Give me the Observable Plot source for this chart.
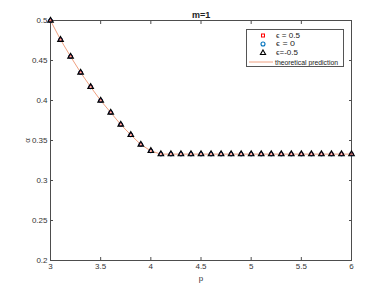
<!DOCTYPE html>
<html>
<head>
<meta charset="utf-8">
<script src="https://cdn.jsdelivr.net/npm/d3@7"></script>
<script src="https://cdn.jsdelivr.net/npm/@observablehq/plot@0.6"></script>
<style>
  body { margin: 0; background: #fff; }
  #wrap { position: relative; width: 388px; height: 291px; font-family: "Liberation Sans", Arial, sans-serif; }
  #legend { position: absolute; left: 246px; top: 29px; width: 96px; height: 36px; border: 1px solid #555; background: #fff; box-sizing: content-box; }
</style>
</head>
<body>
<div id="wrap"></div>
<script>
const P = [3.0,3.1,3.2,3.3,3.4,3.5,3.6,3.7,3.8,3.9,4.0,4.1,4.2,4.3,4.4,4.5,4.6,4.7,4.8,4.9,5.0,5.1,5.2,5.3,5.4,5.5,5.6,5.7,5.8,5.9,6.0];
const epsPos = [0.5,0.476,0.455,0.435,0.417,0.4,0.385,0.370,0.357,0.345,0.337,0.333,0.333,0.333,0.333,0.333,0.333,0.333,0.333,0.333,0.333,0.333,0.333,0.333,0.333,0.333,0.333,0.333,0.333,0.333,0.333];
const epsZero = [0.5,0.476,0.455,0.435,0.417,0.4,0.385,0.370,0.357,0.345,0.337,0.333,0.333,0.333,0.333,0.333,0.333,0.333,0.333,0.333,0.333,0.333,0.333,0.333,0.333,0.333,0.333,0.333,0.333,0.333,0.333];
const epsNeg = [0.5,0.476,0.455,0.435,0.417,0.4,0.385,0.370,0.357,0.345,0.337,0.333,0.333,0.333,0.333,0.333,0.333,0.333,0.333,0.333,0.333,0.333,0.333,0.333,0.333,0.333,0.333,0.333,0.333,0.333,0.333];
const theory = [0.5,0.476,0.455,0.435,0.417,0.4,0.385,0.370,0.357,0.345,0.337,0.333,0.333,0.333,0.333,0.333,0.333,0.333,0.333,0.333,0.333,0.333,0.333,0.333,0.333,0.333,0.333,0.333,0.333,0.333,0.333];
const ticksX = [3,3.5,4,4.5,5,5.5,6];
const ticksY = [0.2,0.25,0.3,0.35,0.4,0.45,0.5];
const legendLabels = ["\u03F5 = 0.5", "\u03F5 = 0", "\u03F5=-0.5", "theoretical prediction"];
const title = "m=1";

const C_SQ = "#ff0000", C_CI = "#0072BD", C_TR = "#000000", C_LN = "#f0a080";
const axisColor = "#4d4d4d";

const rows = P.map((p, i) => ({p, a1: epsPos[i], a2: epsZero[i], a3: epsNeg[i], t: theory[i]}));
const fmt = d => String(+d.toFixed(2));

const chart = Plot.plot({
  width: 388, height: 291,
  marginLeft: 50, marginRight: 37, marginTop: 20, marginBottom: 31,
  style: {fontFamily: "Liberation Sans, Arial, sans-serif", fontSize: "8px", color: "#333"},
  x: {domain: [3, 6]},
  y: {domain: [0.2, 0.5]},
  marks: [
    Plot.axisX(ticksX, {anchor: "bottom", tickSize: 0, tickPadding: 3, tickFormat: fmt, fontSize: 8, fill: "#333",
      label: "p", labelAnchor: "center", labelArrow: "none", labelOffset: 20}),
    Plot.axisX(ticksX, {anchor: "bottom", tickSize: 3, dy: -3, tickFormat: () => "", label: null, stroke: axisColor}),
    Plot.axisX(ticksX, {anchor: "top", tickSize: 3, dy: 3, tickFormat: () => "", label: null, stroke: axisColor}),
    Plot.axisY(ticksY, {anchor: "left", tickSize: 0, tickPadding: 3, tickFormat: fmt, fontSize: 8, fill: "#333",
      label: "\u03B1", labelAnchor: "center", labelArrow: "none", labelOffset: 26}),
    Plot.axisY(ticksY, {anchor: "left", tickSize: 3, dx: 3, tickFormat: () => "", label: null, stroke: axisColor}),
    Plot.axisY(ticksY, {anchor: "right", tickSize: 3, dx: -3, tickFormat: () => "", label: null, stroke: axisColor}),
    Plot.frame({stroke: axisColor}),
    Plot.line(rows, {x: "p", y: "t", stroke: C_LN, strokeWidth: 1}),
    Plot.dot(rows, {x: "p", y: "a1", symbol: "square", r: 1.6, stroke: C_SQ, strokeWidth: 1}),
    Plot.dot(rows, {x: "p", y: "a2", symbol: "circle", r: 1.9, stroke: C_CI, strokeWidth: 1}),
    Plot.dot(rows, {x: "p", y: "a3", symbol: "triangle", r: 2.1, stroke: C_TR, strokeWidth: 1.1}),
    Plot.text([title], {frameAnchor: "top", lineAnchor: "middle", dy: -5, fontWeight: "bold", fontSize: 9, fill: "#222"})
  ]
});

const wrap = document.getElementById("wrap");
wrap.appendChild(chart);

// legend overlay
const leg = d3.select(wrap).append("div").attr("id", "legend");
const svg = leg.append("svg").attr("width", 96).attr("height", 36);
const ys = [5.5, 14, 22.5, 32];
const mx = 16, tx = 29;
svg.append("rect").attr("x", mx - 1.5).attr("y", ys[0] - 1.5).attr("width", 3).attr("height", 3)
  .attr("fill", "none").attr("stroke", C_SQ).attr("stroke-width", 1);
svg.append("circle").attr("cx", mx).attr("cy", ys[1]).attr("r", 2)
  .attr("fill", "none").attr("stroke", C_CI).attr("stroke-width", 1.1);
svg.append("path").attr("d", `M${mx},${ys[2]-2.6}L${mx+2.6},${ys[2]+2}L${mx-2.6},${ys[2]+2}Z`)
  .attr("fill", "none").attr("stroke", C_TR).attr("stroke-width", 1.1);
svg.append("line").attr("x1", 2).attr("x2", 26).attr("y1", ys[3]).attr("y2", ys[3])
  .attr("stroke", C_LN).attr("stroke-width", 1);
const widths = [24, 19, 22, 63];
legendLabels.forEach((t, i) => {
  svg.append("text").attr("x", i === 3 ? 28 : tx).attr("y", ys[i]).attr("dy", "0.35em")
    .attr("font-size", i === 3 ? 7.5 : 6.5).attr("fill", "#222")
    .attr("textLength", widths[i]).attr("lengthAdjust", "spacingAndGlyphs")
    .attr("font-family", "Liberation Sans, Arial, sans-serif").text(t);
});
</script>
</body>
</html>
